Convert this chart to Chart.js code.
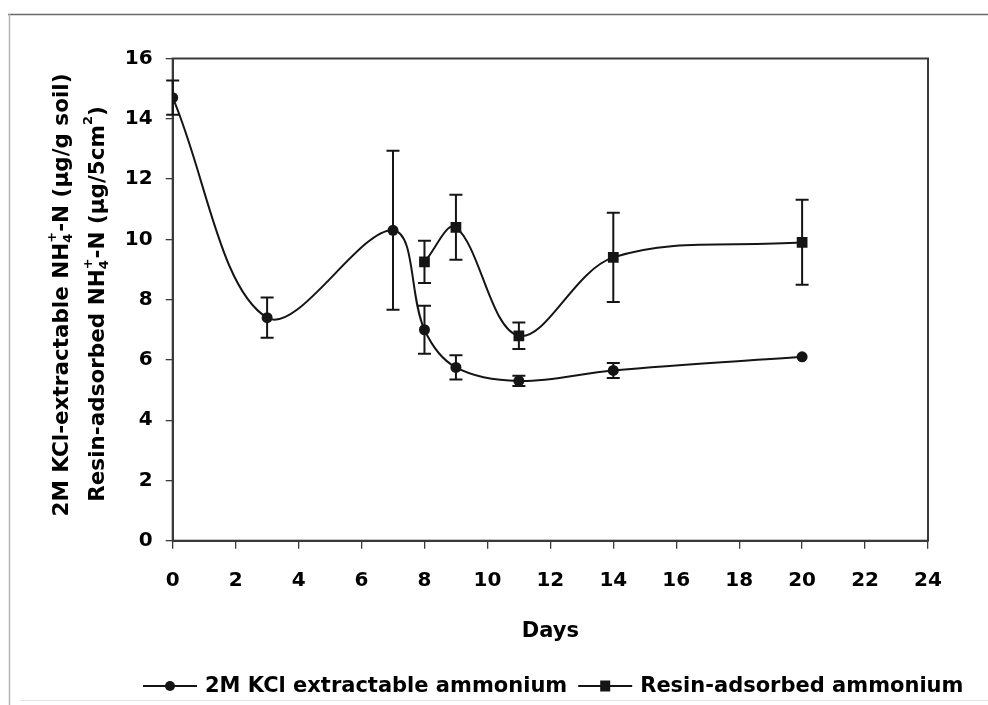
<!DOCTYPE html>
<html><head><meta charset="utf-8">
<script src="https://cdn.jsdelivr.net/npm/chart.js@4/dist/chart.umd.min.js"></script>
<style>html,body{margin:0;padding:0;background:#fff}#wrap{position:relative;width:988px;height:705px}</style>
</head><body><div id="wrap"><canvas id="c" width="988" height="705"></canvas></div>
<script>
// ---- data ----
const kclDays = [0, 3, 7, 8, 9, 11, 14, 20];
const kclValues = [14.7, 7.4, 10.3, 7.0, 5.75, 5.3, 5.65, 6.1];
const kclErrors = [0.57, 0.67, 2.64, 0.8, 0.4, 0.17, 0.25, 0.05];
const resinDays = [8, 9, 11, 14, 20];
const resinValues = [9.25, 10.4, 6.8, 9.4, 9.9];
const resinErrors = [0.7, 1.08, 0.44, 1.48, 1.41];
const xTickValues = [0, 2, 4, 6, 8, 10, 12, 14, 16, 18, 20, 22, 24];
const yTickValues = [0, 2, 4, 6, 8, 10, 12, 14, 16];
const seriesLabels = ['2M KCl extractable ammonium', 'Resin-adsorbed ammonium'];
const xTitle = 'Days';
const yTitleLines = [
  [['n', '2M KCl-extractable NH'], ['ss', '4', '+'], ['n', '-N (\u00b5g/g soil)']],
  [['n', 'Resin-adsorbed NH'], ['ss', '4', '+'], ['n', '-N (\u00b5g/5cm'], ['sup', '2'], ['n', ')']]
];

const FONT = "'DejaVu Sans', 'Liberation Sans', sans-serif";
const INK = '#151515';

const framePlugin = {
  id: 'frame',
  beforeDraw(chart) {
    const c = chart.ctx;
    c.save();
    c.fillStyle = '#fff';
    c.fillRect(0, 0, chart.width, chart.height);
    c.strokeStyle = '#6a6a6a'; c.lineWidth = 1.6;
    c.beginPath(); c.moveTo(8, 14.5); c.lineTo(988, 14.5); c.stroke();
    c.strokeStyle = '#b5b5b5'; c.lineWidth = 1.5;
    c.beginPath(); c.moveTo(9.5, 14); c.lineTo(9.5, 705); c.stroke();
    c.strokeStyle = '#e6e6e6'; c.lineWidth = 1;
    c.beginPath(); c.moveTo(20, 700.5); c.lineTo(988, 700.5); c.stroke();
    c.restore();
  },
  beforeDatasetsDraw(chart) {
    const a = chart.chartArea, c = chart.ctx;
    c.save();
    c.strokeStyle = '#3a3a3a'; c.lineWidth = 2;
    c.strokeRect(a.left, a.top, a.right - a.left, a.bottom - a.top);
    c.restore();
  }
};

const errorBarPlugin = {
  id: 'errorBars',
  afterDatasetsDraw(chart) {
    const c = chart.ctx, ys = chart.scales.y;
    c.save();
    c.strokeStyle = INK; c.lineWidth = 2;
    chart.data.datasets.forEach((ds, di) => {
      const meta = chart.getDatasetMeta(di);
      meta.data.forEach((pt, i) => {
        const e = ds.errors[i];
        if (!e || e < 0.08) return;
        const v = ds.data[i].y;
        const yt = ys.getPixelForValue(v + e), yb = ys.getPixelForValue(v - e);
        const x = pt.x, w = 6.5;
        c.beginPath();
        c.moveTo(x, yt); c.lineTo(x, yb);
        c.moveTo(x - w, yt); c.lineTo(x + w, yt);
        c.moveTo(x - w, yb); c.lineTo(x + w, yb);
        c.stroke();
      });
    });
    c.restore();
  }
};

function drawRich(c, segs, cx, cy, size) {
  const small = Math.round(size * 0.62);
  const big = 'bold ' + size + 'px ' + FONT, sm = 'bold ' + small + 'px ' + FONT;
  const widths = segs.map(s => {
    if (s[0] === 'n') { c.font = big; return c.measureText(s[1]).width; }
    c.font = sm;
    if (s[0] === 'ss') return Math.max(c.measureText(s[1]).width, c.measureText(s[2]).width);
    return c.measureText(s[1]).width;
  });
  const total = widths.reduce((a, b) => a + b, 0);
  c.save();
  c.translate(cx, cy); c.rotate(-Math.PI / 2);
  c.textBaseline = 'middle'; c.textAlign = 'left'; c.fillStyle = '#000';
  let x = -total / 2;
  segs.forEach((s, i) => {
    if (s[0] === 'n') { c.font = big; c.fillText(s[1], x, 0); }
    else if (s[0] === 'ss') { c.font = sm; c.fillText(s[1], x, size * 0.32); c.fillText(s[2], x, -size * 0.45); }
    else { c.font = sm; c.fillText(s[1], x, -size * 0.42); }
    x += widths[i];
  });
  c.restore();
}

const yTitlePlugin = {
  id: 'yTitle',
  afterDraw(chart) {
    const c = chart.ctx;
    drawRich(c, yTitleLines[0], 62, 295, 21.5);
    drawRich(c, yTitleLines[1], 98, 304, 21.5);
  }
};

const legendPlugin = {
  id: 'customLegend',
  afterDraw(chart) {
    const c = chart.ctx;
    const y = 686, box = 54, gap = 8, itemGap = 11;
    let x = 143;
    c.save();
    c.font = 'bold 21px ' + FONT; c.textBaseline = 'middle'; c.textAlign = 'left';
    chart.data.datasets.forEach(ds => {
      c.strokeStyle = ds.borderColor; c.lineWidth = 2;
      c.beginPath(); c.moveTo(x, y); c.lineTo(x + box, y); c.stroke();
      c.fillStyle = ds.backgroundColor;
      const mx = x + box / 2;
      if (ds.pointStyle === 'rect') { c.fillRect(mx - 5, y - 5.5, 10, 11); }
      else { c.beginPath(); c.arc(mx, y, 5, 0, Math.PI * 2); c.fill(); }
      c.fillStyle = '#000';
      c.fillText(ds.label, x + box + gap, y + 1);
      x += box + gap + c.measureText(ds.label).width + itemGap;
    });
    c.restore();
  }
};

new Chart(document.getElementById('c'), {
  type: 'line',
  data: {
    datasets: [
      {
        label: seriesLabels[0],
        data: kclDays.map((d, i) => ({ x: d, y: kclValues[i] })),
        errors: kclErrors,
        borderColor: INK, backgroundColor: INK, borderWidth: 2,
        pointStyle: 'circle', pointRadius: 5.5, pointBorderWidth: 0,
        tension: 0.35, fill: false
      },
      {
        label: seriesLabels[1],
        data: resinDays.map((d, i) => ({ x: d, y: resinValues[i] })),
        errors: resinErrors,
        borderColor: INK, backgroundColor: INK, borderWidth: 2,
        pointStyle: 'rect', pointRadius: 7.6, pointBorderWidth: 0,
        tension: 0.35, fill: false
      }
    ]
  },
  options: {
    responsive: false,
    animation: false,
    devicePixelRatio: 1,
    layout: { padding: { top: 58.5, right: 60, bottom: 0, left: 0 } },
    plugins: { legend: { display: false }, tooltip: { enabled: false } },
    scales: {
      x: {
        type: 'linear', min: 0, max: 24,
        afterBuildTicks: s => { s.ticks = xTickValues.map(v => ({ value: v })); },
        afterFit: s => { s.height = 164.3; },
        grid: { display: true, drawOnChartArea: false, drawTicks: true, tickLength: 8, color: '#3a3a3a', lineWidth: 1.3 },
        border: { display: true, color: '#3a3a3a', width: 2 },
        ticks: { color: '#000', padding: 20, font: { family: FONT, size: 20, weight: 'bold' } },
        title: { display: true, text: xTitle, color: '#000', font: { family: FONT, size: 21, weight: 'bold' }, padding: { top: 0, bottom: 61 } }
      },
      y: {
        type: 'linear', min: 0, max: 16,
        afterBuildTicks: s => { s.ticks = yTickValues.map(v => ({ value: v })); },
        afterFit: s => { s.width = 172.7; },
        grid: { display: true, drawOnChartArea: false, drawTicks: true, tickLength: 7, color: '#3a3a3a', lineWidth: 1.3 },
        border: { display: true, color: '#3a3a3a', width: 2 },
        ticks: { color: '#000', padding: 13, font: { family: FONT, size: 20, weight: 'bold' } },
        title: { display: false }
      }
    }
  },
  plugins: [framePlugin, errorBarPlugin, yTitlePlugin, legendPlugin]
});
</script>
</body></html>
